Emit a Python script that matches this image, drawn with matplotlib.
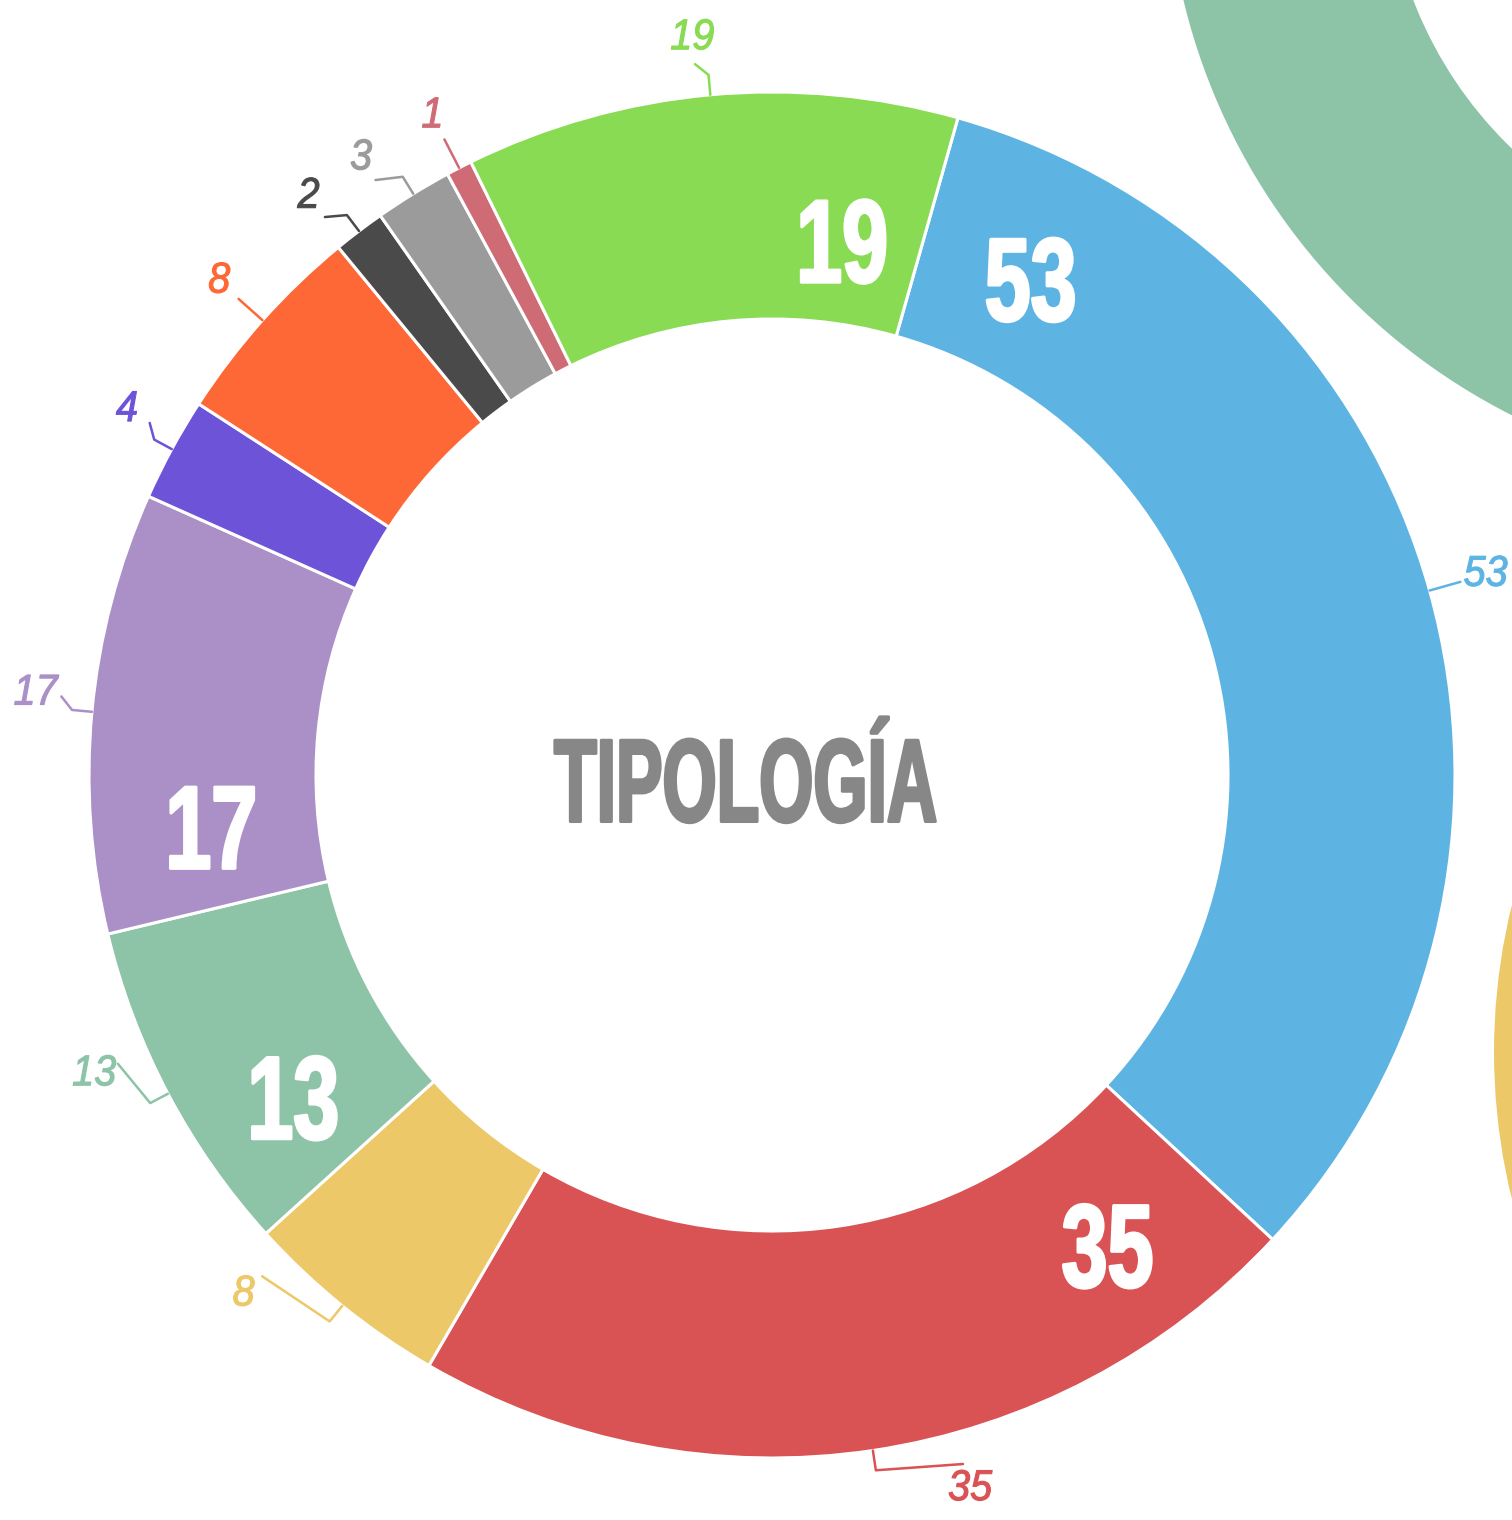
import numpy as np
import matplotlib
matplotlib.use('Agg')
import matplotlib.pyplot as plt
from matplotlib import patheffects as pe
from matplotlib.transforms import Affine2D

# データ
values = [53, 35, 8, 13, 17, 4, 8, 2, 3, 1, 19]
colors = ['#5db4e3', '#d95254', '#ecc868', '#8dc3a7', '#ab8fc7', '#6c53d7',
          '#fe6836', '#4a4a4a', '#9b9b9b', '#cf6b74', '#88db52']
labels = [str(v) for v in values]
title = 'TIPOLOGÍA'

# 内側の大きい数字: index -> (扇形内の位置(時計回り), 半径比)
inner_labels = {0: (0.10, 0.82), 1: (0.15, 0.845), 3: (0.29, 0.845),
                4: (0.22, 0.825), 10: (0.80, 0.79)}
# 外側ラベルの角度ずれ (度, 時計回り)
outer_nudge = [0, -7, 6.5, 4, 1, 1, 0, -1.5, -2, 0, -1]

# 画像の端に見える他のドーナツ
other_rings = [('#8dc3a7', (1796, 1667), 630, 220),
               ('#ecc868', (2107, 468), 613, 200)]


class Condense(pe.AbstractPathEffect):
    """文字を横方向に圧縮する (Bebas Neue 風)"""
    def __init__(self, sx=0.6, lw=0):
        super().__init__()
        self.sx = sx
        self.lw = lw

    def draw_path(self, renderer, gc, tpath, affine, rgbFace=None):
        ext = tpath.get_extents()
        mx = (ext.x0 + ext.x1) / 2
        aff = Affine2D().translate(-mx, 0).scale(self.sx, 1).translate(mx, 0) + affine
        gc0 = renderer.new_gc()
        gc0.copy_properties(gc)
        if self.lw:
            gc0.set_linewidth(self.lw)
            gc0.set_foreground(rgbFace)
        renderer.draw_path(gc0, tpath, aff, rgbFace)
        gc0.restore()


W, H = 1512, 1520
fig = plt.figure(figsize=(15.12, 15.2), dpi=100)
ax = fig.add_axes([0, 0, 1, 1])

cx, cy, R, r_in = 772, 745, 683, 456

for col, c, rr, w in other_rings:
    ax.pie([1], colors=[col], center=c, radius=rr,
           wedgeprops=dict(width=w, linewidth=0))

wedges, _ = ax.pie(values, colors=colors, startangle=74.2, counterclock=False,
                   center=(cx, cy), radius=R,
                   wedgeprops=dict(width=R - r_in, edgecolor='white', linewidth=2.2))

# 外側の小さいラベルと引き出し線
for i, w in enumerate(wedges):
    mid = np.deg2rad((w.theta1 + w.theta2) / 2)
    lab = np.deg2rad((w.theta1 + w.theta2) / 2 - outer_nudge[i])
    xs = [cx + R * np.cos(mid), cx + (R + 20) * np.cos(mid), cx + (R + 32) * np.cos(lab)]
    ys = [cy + R * np.sin(mid), cy + (R + 20) * np.sin(mid), cy + (R + 32) * np.sin(lab)]
    ax.plot(xs, ys, color=colors[i], lw=1.8, solid_capstyle='round')
    ax.text(cx + 1.085 * R * np.cos(lab), cy + 1.085 * R * np.sin(lab), labels[i],
            color=colors[i], fontsize=31, style='italic', family='Liberation Sans',
            ha='center', va='center', path_effects=[Condense(0.92, 0.8)])

# 内側の大きい数字
big_pt = 85
cap = big_pt * 100 / 72 * 0.716
for i, (f, rf) in inner_labels.items():
    w = wedges[i]
    ang = np.deg2rad(w.theta2 - f * (w.theta2 - w.theta1))
    x = cx + rf * R * np.cos(ang)
    y = cy + rf * R * np.sin(ang)
    ax.text(x, y - cap / 2, labels[i], color='white', fontsize=big_pt,
            fontweight='bold', family='Liberation Sans', ha='center', va='baseline',
            path_effects=[Condense(0.70, 2.2)])

# 中央のタイトル
ax.text(746, H - 823 + 1.5, title, color='#878787', fontsize=85, fontweight='bold',
        family='Liberation Sans', ha='center', va='baseline',
        path_effects=[Condense(0.59, 2.2)])

ax.set_xlim(0, W)
ax.set_ylim(0, H)
ax.axis('off')

plt.savefig('out.png', dpi=100)
plt.close()
